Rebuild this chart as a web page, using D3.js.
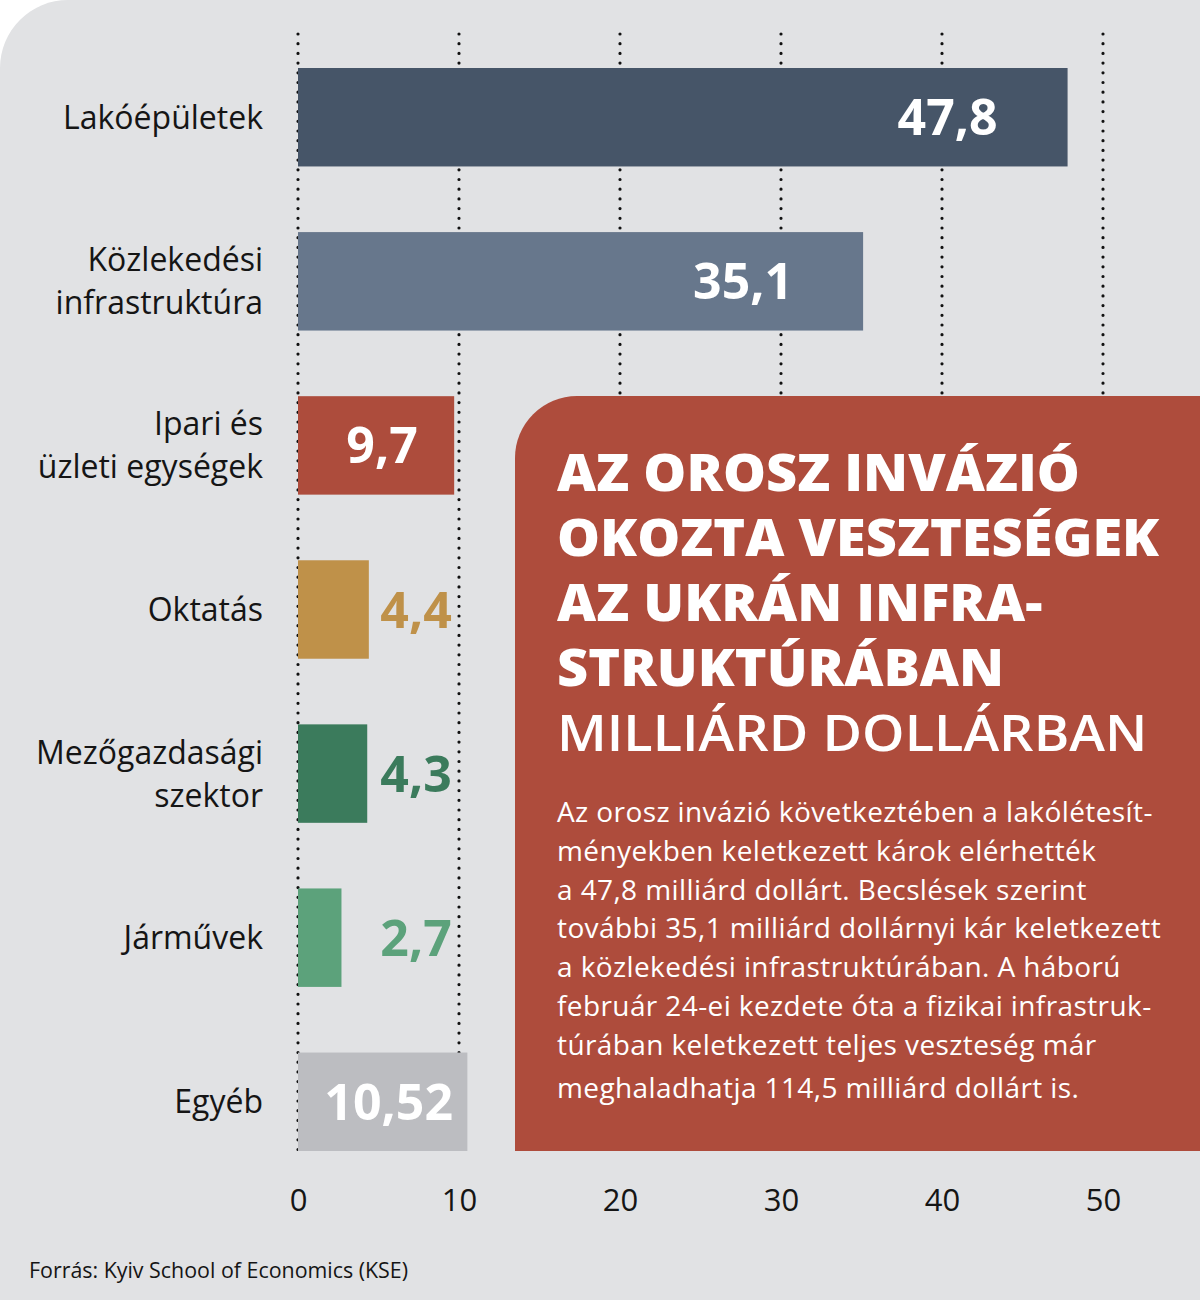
<!DOCTYPE html>
<html><head><meta charset="utf-8">
<script src="https://cdn.jsdelivr.net/npm/d3@7"></script>
<style>body{margin:0;background:#fff}svg{display:block}</style>
</head><body><svg id="c" width="1200" height="1300"></svg>
<script>
const categories = [["Lakóépületek"],["Közlekedési","infrastruktúra"],["Ipari és","üzleti egységek"],["Oktatás"],["Mezőgazdasági","szektor"],["Járművek"],["Egyéb"]];
const values = [47.8, 35.1, 9.7, 4.4, 4.3, 2.7, 10.52];
const valueLabels = ["47,8","35,1","9,7","4,4","4,3","2,7","10,52"];
const barColors = ["#465568","#67778c","#ad4c3c","#bf9149","#3b7b5c","#5ca27b","#bcbdc1"];
const tickValues = [0, 10, 20, 30, 40, 50];
const titleLines = ["AZ OROSZ INVÁZIÓ","OKOZTA VESZTESÉGEK","AZ UKRÁN INFRA-","STRUKTÚRÁBAN"];
const subtitle = "MILLIÁRD DOLLÁRBAN";
const bodyLines = ["Az orosz invázió következtében a lakólétesít-","ményekben keletkezett károk elérhették","a 47,8 milliárd dollárt. Becslések szerint","további 35,1 milliárd dollárnyi kár keletkezett","a közlekedési infrastruktúrában. A háború","február 24-ei kezdete óta a fizikai infrastruk-","túrában keletkezett teljes veszteség már","meghaladhatja 114,5 milliárd dollárt is."];
const source = "Forrás: Kyiv School of Economics (KSE)";

const svg = d3.select("#c");
const W = 1200, H = 1300;
const FONT = "'Open Sans', 'Noto Sans', sans-serif";

// background with rounded top-left corner
const R0 = 68;
svg.append("path")
  .attr("d", `M0,${R0} A${R0},${R0} 0 0 1 ${R0},0 L${W},0 L${W},${H} L0,${H} Z`)
  .attr("fill", "#e1e2e4");

const x = d3.scaleLinear().domain([0, 50]).range([298, 1103]);
const y = d3.scaleBand().domain(d3.range(values.length)).range([68, 1151]).paddingInner(0.4).paddingOuter(0);

// dotted gridlines
svg.append("g").selectAll("line").data(tickValues).join("line")
  .attr("x1", d => x(d)).attr("x2", d => x(d))
  .attr("y1", 34).attr("y2", 1150)
  .attr("stroke", "#111").attr("stroke-width", 3.2)
  .attr("stroke-linecap", "round").attr("stroke-dasharray", "0 9.7");

// bars
const data = values.map((v, i) => ({v, i, cat: categories[i], lab: valueLabels[i], col: barColors[i]}));
svg.append("g").selectAll("rect").data(data).join("rect")
  .attr("x", x(0)).attr("y", d => y(d.i))
  .attr("width", d => x(d.v) - x(0)).attr("height", y.bandwidth())
  .attr("fill", d => d.col);

// value labels
const bw = y.bandwidth();
svg.append("g").selectAll("text").data(data).join("text")
  .attr("font-family", FONT).attr("font-weight", 700).attr("font-size", 50)
  .attr("y", d => y(d.i) + bw / 2 + 18)
  .attr("text-anchor", d => (d.v > 20 ? "end" : (d.v > 9 ? "middle" : "end")))
  .attr("x", d => d.v > 20 ? x(d.v) - 70 : (d.v > 9 ? (x(0) + x(d.v)) / 2 + 6 : x(9.55)))
  .attr("fill", d => d.v > 9 ? "#ffffff" : d.col)
  .text(d => d.lab);

// category labels
const cg = svg.append("g");
data.forEach(d => {
  const cy = y(d.i) + bw / 2;
  const n = d.cat.length;
  d.cat.forEach((line, k) => {
    cg.append("text").attr("font-family", FONT).attr("font-size", 32)
      .attr("fill", "#151515").attr("text-anchor", "end")
      .attr("x", 263).attr("y", cy + 11.5 + (k - (n - 1) / 2) * 43)
      .text(line);
  });
});

// x axis
const axis = d3.axisBottom(x).tickValues(tickValues).tickSize(0).tickPadding(3).tickFormat(d3.format("d"));
const ag = svg.append("g").attr("transform", "translate(0,1186)").call(axis);
ag.select(".domain").remove();
ag.selectAll("text").attr("font-family", FONT).attr("font-size", 31).attr("fill", "#151515");

// red info box
const bx = 515, by = 396, bx1 = 1200, by1 = 1151, r = 62;
svg.append("path")
  .attr("d", `M${bx},${by1} L${bx},${by + r} A${r},${r} 0 0 1 ${bx + r},${by} L${bx1},${by} L${bx1},${by1} Z`)
  .attr("fill", "#ae4c3c");

const TX = 557, SX = 1.06;
const tg = svg.append("g").attr("transform", `translate(${TX},0) scale(${SX},1)`);
titleLines.forEach((t, k) => {
  tg.append("text").attr("font-family", FONT).attr("font-weight", 800).attr("font-size", 51)
    .attr("fill", "#fff").attr("x", 0).attr("y", 491 + k * 65)
    .text(t);
});
tg.append("text").attr("font-family", FONT).attr("font-weight", 600).attr("font-size", 51)
  .attr("fill", "#fff").attr("x", 0).attr("y", 491 + 4 * 65).text(subtitle);

const bodyG = svg.append("g");
bodyLines.forEach((t, k) => {
  bodyG.append("text").attr("font-family", FONT).attr("font-size", 28).attr("letter-spacing", 0.4)
    .attr("fill", "#fff").attr("x", 557)
    .attr("y", 822 + k * 38.8 + (k === bodyLines.length - 1 ? 4 : 0))
    .text(t);
});

svg.append("text").attr("font-family", FONT).attr("font-size", 21.4).attr("fill", "#151515")
  .attr("x", 29).attr("y", 1278).text(source);
</script></body></html>
